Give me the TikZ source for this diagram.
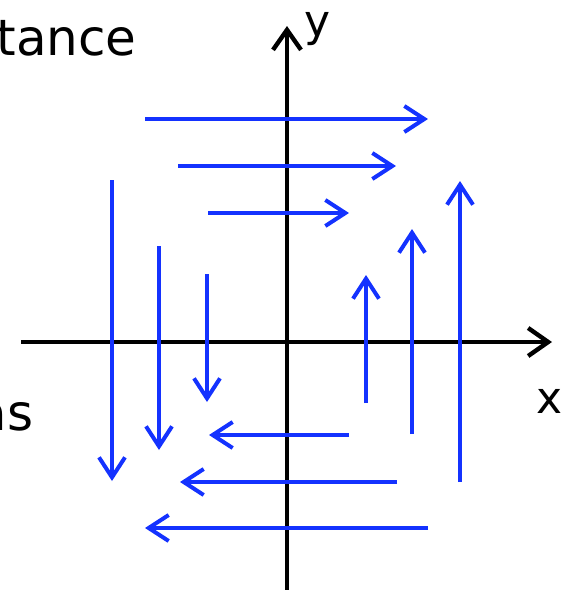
\documentclass[tikz,border=0pt]{standalone}
\usepackage{fontspec}
\setmainfont{DejaVu Sans}
\usepackage{xcolor}
\usepackage{tikz}
\usetikzlibrary{arrows.meta}
\definecolor{flowblue}{HTML}{1432FF}

\begin{document}
\begin{tikzpicture}[x=0.5pt,y=-0.5pt,
    axis/.style={-{Straight Barb[length=10pt,width=14pt]}, line width=2.2pt, color=black},
    flow/.style={-{Straight Barb[length=10pt,width=13pt]}, line width=2pt, color=flowblue},
    lbl/.style={font=\fontsize{22}{26}\selectfont, inner sep=0pt},
    slide/.style={font=\fontsize{25}{30}\selectfont, inner sep=0pt},
]
\useasboundingbox (0,0) rectangle (576,590);
\clip (0,0) rectangle (576,590);

% slide text, cut off at the left
\node[slide,anchor=base east] (word1) at (137,55) {tance};
\node[slide,anchor=base east] (word2) at (34,430) {as};

% axes
\coordinate (xl) at (21,342);
\coordinate (xr) at (552,342);
\coordinate (yb) at (287,596);
\coordinate (yt) at (287,26);
\draw[axis] (xl) -- (xr);
\draw[axis] (yb) -- (yt);
\node[lbl,anchor=base] (xlab) at (550,413) {x};
\node[lbl,anchor=base] (ylab) at (318,36) {y};

% top row, pointing right
\coordinate (r1a) at (145,119); \coordinate (r1b) at (428,119);
\coordinate (r2a) at (178,166); \coordinate (r2b) at (396,166);
\coordinate (r3a) at (208,213); \coordinate (r3b) at (349,213);
\draw[flow] (r1a) -- (r1b);
\draw[flow] (r2a) -- (r2b);
\draw[flow] (r3a) -- (r3b);

% left side, pointing down
\coordinate (d1a) at (112,180); \coordinate (d1b) at (112,481);
\coordinate (d2a) at (159,246); \coordinate (d2b) at (159,450);
\coordinate (d3a) at (207,274); \coordinate (d3b) at (207,402);
\draw[flow] (d1a) -- (d1b);
\draw[flow] (d2a) -- (d2b);
\draw[flow] (d3a) -- (d3b);

% right side, pointing up
\coordinate (u1a) at (366,403); \coordinate (u1b) at (366,275);
\coordinate (u2a) at (412,434); \coordinate (u2b) at (412,229);
\coordinate (u3a) at (460,482); \coordinate (u3b) at (460,181);
\draw[flow] (u1a) -- (u1b);
\draw[flow] (u2a) -- (u2b);
\draw[flow] (u3a) -- (u3b);

% bottom row, pointing left
\coordinate (l1a) at (349,435); \coordinate (l1b) at (209,435);
\coordinate (l2a) at (397,482); \coordinate (l2b) at (180,482);
\coordinate (l3a) at (428,528); \coordinate (l3b) at (145,528);
\draw[flow] (l1a) -- (l1b);
\draw[flow] (l2a) -- (l2b);
\draw[flow] (l3a) -- (l3b);
\end{tikzpicture}
\end{document}
